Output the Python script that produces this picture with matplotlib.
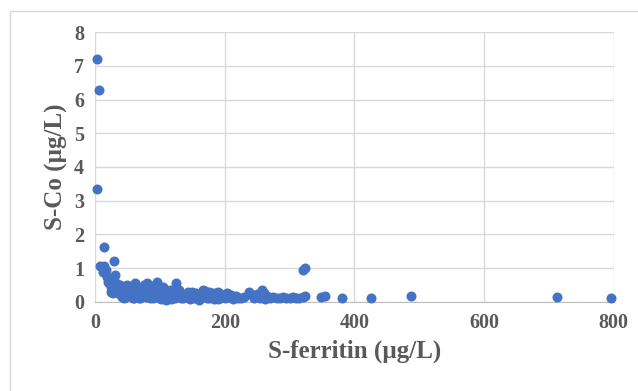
import matplotlib.pyplot as plt
from matplotlib.patches import Rectangle

# S-ferritin (ug/L) and S-Co (ug/L)
ferritin = [3, 6, 3, 14, 8, 14, 29, 30, 18, 20, 22, 25, 24, 27, 32, 35, 38, 40, 12, 17, 26, 33, 43, 45,
            48, 50, 52, 55, 58, 60, 62, 65, 68, 70, 72, 75, 78, 80, 82, 85, 88, 90, 92, 95, 97, 100,
            102, 105, 108, 110, 112, 115, 118, 120, 123, 125, 128, 130, 133, 136, 140, 143, 146, 150,
            153, 156, 160, 163, 166, 170, 173, 176, 180, 183, 186, 190, 193, 196, 200,
            55, 65, 75, 85, 95, 105, 115, 60, 70, 80, 90, 100, 110, 120, 130, 140, 150, 160, 170, 180,
            190, 50, 45, 42, 36, 57, 67, 77, 87, 93, 98, 103, 107, 113, 117, 127, 135, 145, 155, 165,
            175, 185, 195,
            203, 207, 210, 213, 217, 220, 225, 230, 238, 242, 245, 250, 255, 258, 260, 262, 265, 270,
            275, 280, 285, 290, 295, 300, 305, 310, 315, 320, 324, 320, 324, 349, 355, 381, 426, 488,
            713, 795]
cobalt = [7.2, 6.28, 3.35, 1.62, 1.07, 1.05, 1.2, 0.8, 0.75, 0.6, 0.55, 0.45, 0.3, 0.25, 0.4, 0.35, 0.5,
          0.2, 0.9, 0.95, 0.65, 0.55, 0.45, 0.3,
          0.15, 0.5, 0.25, 0.4, 0.12, 0.3, 0.55, 0.2, 0.35, 0.1, 0.45, 0.25, 0.15, 0.55, 0.3, 0.2, 0.4,
          0.12, 0.5, 0.6, 0.25, 0.35, 0.08, 0.2, 0.3, 0.15, 0.25, 0.1, 0.2, 0.3, 0.12, 0.55, 0.18, 0.25,
          0.1, 0.2, 0.15, 0.3, 0.08, 0.2, 0.12, 0.25, 0.18, 0.1, 0.35, 0.22, 0.12, 0.28, 0.15, 0.08,
          0.2, 0.3, 0.12, 0.18, 0.1,
          0.2, 0.45, 0.5, 0.1, 0.15, 0.45, 0.35, 0.1, 0.3, 0.2, 0.3, 0.15, 0.05, 0.1, 0.35, 0.22, 0.3,
          0.05, 0.32, 0.25, 0.08, 0.35, 0.1, 0.15, 0.25, 0.28, 0.12, 0.38, 0.25, 0.2, 0.45, 0.28, 0.12,
          0.2, 0.07, 0.22, 0.12, 0.18, 0.15, 0.2, 0.1, 0.25, 0.22,
          0.25, 0.15, 0.2, 0.08, 0.18, 0.12, 0.1, 0.15, 0.29, 0.2, 0.1, 0.22, 0.12, 0.35, 0.25, 0.08,
          0.18, 0.12, 0.15, 0.1, 0.12, 0.15, 0.1, 0.12, 0.13, 0.1, 0.12, 0.15, 0.18, 0.95, 1.0, 0.14,
          0.18, 0.1, 0.1, 0.18, 0.13, 0.1]
xticks = [0, 200, 400, 600, 800]
yticks = [0, 1, 2, 3, 4, 5, 6, 7, 8]

txt = '#595959'
fig = plt.figure(figsize=(6.38, 3.91), dpi=100)
fig.patches.append(Rectangle((0.016, -0.01), 1.0, 0.982, transform=fig.transFigure,
                             fill=False, edgecolor='#d9d9d9', lw=1))
ax = fig.add_axes([0.149, 0.228, 0.813, 0.69])
ax.scatter(ferritin, cobalt, s=52, color='#4472C4', zorder=3, clip_on=False, linewidths=0)
ax.set_xlim(0, 800)
ax.set_ylim(0, 8)
ax.set_xticks(xticks)
ax.set_yticks(yticks)
ax.grid(True, color='#d9d9d9', lw=1)
ax.set_axisbelow(True)
for s in ['top', 'right', 'left']:
    ax.spines[s].set_visible(False)
ax.spines['bottom'].set_color('#bfbfbf')
ax.tick_params(length=0, labelsize=14.5, labelcolor=txt, pad=8)
for lab in ax.get_xticklabels() + ax.get_yticklabels():
    lab.set_family('Liberation Serif')
    lab.set_fontweight('bold')
ax.set_xlabel('S-ferritin (µg/L)', family='Liberation Serif', fontweight='bold',
              fontsize=18, color=txt, labelpad=5)
ax.set_ylabel('S-Co (µg/L)', family='Liberation Serif', fontweight='bold',
              fontsize=18, color=txt, labelpad=4)
fig.savefig('out.png', dpi=100)
